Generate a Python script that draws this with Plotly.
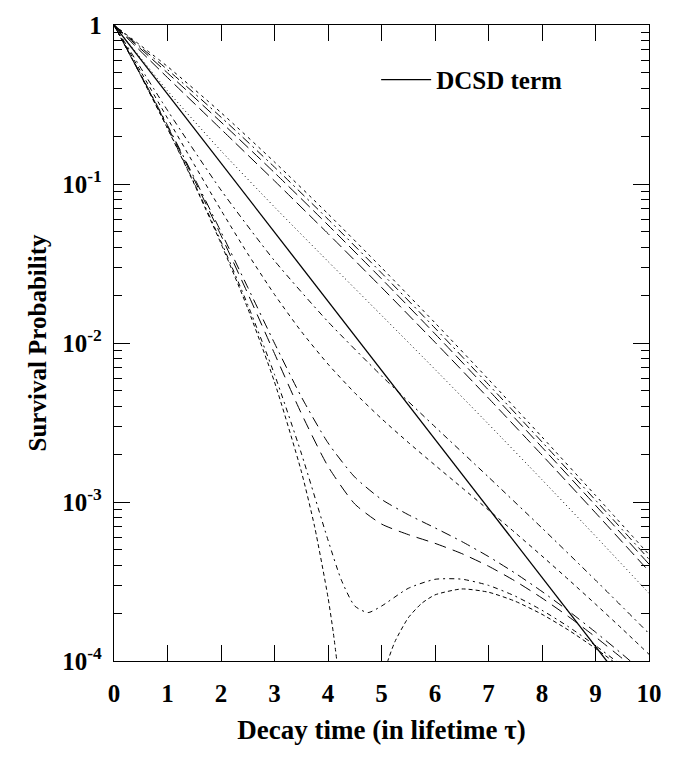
import plotly.graph_objects as go

# decay time grids (in units of the lifetime)
t_coarse = [0, 1, 2, 3, 4, 5, 6, 7, 8, 9, 10]
t_fine = [0, 0.5, 1, 1.5, 2, 2.5, 3, 3.5, 4, 4.5, 5, 5.5, 6, 6.5, 7, 7.5, 8, 8.5, 9, 9.5, 10]
t_dip = [0, 0.5, 1, 1.5, 2, 2.5, 3, 3.5, 4, 4.25, 4.5, 4.75, 5, 5.5, 6, 6.5, 7, 7.5, 8, 8.5, 9, 9.5, 10]
t_zero_left = [0, 0.5, 1, 1.5, 2, 2.5, 3, 3.5, 3.75, 4, 4.1, 4.2]
t_zero_right = [4.9, 5.0, 5.1, 5.25, 5.5, 5.75, 6, 6.5, 7, 7.5, 8, 8.5, 9, 9.5, 10]

# pure doubly-Cabibbo-suppressed term
t_dcsd = [0, 10]
p_dcsd = [1.0, 4.54e-5]

# curves above the DCSD term
p_a = [1.0, 0.5482, 0.2812, 0.1375, 0.06493, 0.02981, 0.01339, 0.005906, 0.002566, 0.001101, 0.0004669]
p_b = [1.0, 0.5238, 0.2633, 0.1277, 0.06008, 0.02758, 0.01241, 0.005483, 0.002388, 0.001027, 0.0004369]
p_c = [1.0, 0.4995, 0.2453, 0.1178, 0.05523, 0.02535, 0.01142, 0.005061, 0.002210, 0.0009535, 0.0004068]
p_d = [1.0, 0.4670, 0.2214, 0.1046, 0.04876, 0.02238, 0.01011, 0.004497, 0.001974, 0.0008555, 0.0003667]
p_e = [1.0, 0.3858, 0.1617, 0.07161, 0.03259, 0.01494, 0.006826, 0.003088, 0.001381, 0.0006103, 0.0002665]
p_f = [1.0, 0.2905, 0.09157, 0.03291, 0.01361, 0.006214, 0.002972, 0.001435, 0.0006859, 0.0003225, 0.0001489]

# curves with destructive interference
p_g = [1.0, 0.5095, 0.2591, 0.1324, 0.06851, 0.03642, 0.02019, 0.01183, 0.007367, 0.004856, 0.003344,
       0.002370, 0.001705, 0.001233, 0.0008907, 0.0006403, 0.0004573, 0.0003241, 0.0002279, 0.0001591, 0.0001102]
p_h = [1.0, 0.4888, 0.2340, 0.1095, 0.04999, 0.02238, 0.009971, 0.004597, 0.002355, 0.001435, 0.001039,
       0.0008321, 0.0006875, 0.0005644, 0.000454, 0.0003565, 0.0002736, 0.0002058, 0.0001519, 0.0001104, 7.92e-5]
p_i = [1.0, 0.4859, 0.2306, 0.1064, 0.04748, 0.02048, 0.008586, 0.003617, 0.001676, 0.000972, 0.000727,
       0.0006237, 0.0005496, 0.0004738, 0.0003948, 0.000318, 0.0002488, 0.0001897, 0.0001416, 0.0001038, 7.50e-5]
p_j = [1.0, 0.4814, 0.2250, 0.1013, 0.04342, 0.01740, 0.006345, 0.002031, 0.0005762, 0.0003227, 0.0002217,
       0.0002016, 0.0002215, 0.0002864, 0.0003264, 0.0003271, 0.000299, 0.0002558, 0.0002085, 0.0001638,
       0.000125, 9.32e-5, 6.82e-5]
p_k_left = [1.0, 0.4801, 0.2234, 0.09985, 0.04223, 0.01649, 0.005685, 0.001564, 0.000699, 0.0002516, 0.00015, 8.0e-5]
p_k_right = [4.94e-5, 7.22e-5, 9.61e-5, 0.0001321, 0.0001869, 0.0002303, 0.0002605, 0.0002839, 0.0002708,
             0.0002375, 0.0001966, 0.0001561, 0.00012, 9.0e-5, 6.61e-5]

y_ticks = [1, 0.1, 0.01, 0.001, 0.0001]
y_tick_text = ["<b>1</b>", "<b>10<sup>-1</sup></b>", "<b>10<sup>-2</sup></b>",
               "<b>10<sup>-3</sup></b>", "<b>10<sup>-4</sup></b>"]
x_ticks = [0, 1, 2, 3, 4, 5, 6, 7, 8, 9, 10]

SERIF = "Liberation Serif, Times New Roman, serif"
INK = "black"

fig = go.Figure()


def curve(t, p, dash, width=1.0, name=None, legend=False):
    fig.add_trace(go.Scatter(
        x=t, y=p, mode="lines", name=name, showlegend=legend,
        line=dict(color=INK, width=width, dash=dash, shape="spline", smoothing=0.6),
        hoverinfo="skip",
    ))


curve(t_coarse, p_a, "3px,4px")
curve(t_coarse, p_b, "9px,4px,2px,4px")
curve(t_coarse, p_c, "12px,5px")
curve(t_coarse, p_d, "12px,5px")
curve(t_coarse, p_e, "1px,3px")
curve(t_coarse, p_f, "6px,4px,2px,4px")
curve(t_fine, p_g, "4px,4px")
curve(t_fine, p_h, "10px,5px,2px,5px")
curve(t_fine, p_i, "12px,7px")
curve(t_dip, p_j, "5px,4px,2px,4px")
curve(t_zero_left, p_k_left, "4px,3px")
curve(t_zero_right, p_k_right, "4px,3px")
curve(t_dcsd, p_dcsd, "solid", width=1.3, name="<b>DCSD term</b>", legend=True)

axis_common = dict(
    showline=True, linecolor=INK, linewidth=1.3, mirror="ticks",
    ticks="inside", tickcolor=INK, tickwidth=1.2,
    showgrid=False, zeroline=False,
    tickfont=dict(family=SERIF, size=25, color=INK),
)

fig.update_xaxes(
    range=[0, 10], tickvals=x_ticks, ticktext=[f"<b>{v}</b>" for v in x_ticks],
    ticklen=16, ticklabelstandoff=10,
    title=dict(text="<b>Decay time (in lifetime \u03c4)</b>",
               font=dict(family=SERIF, size=27, color=INK), standoff=13),
    **axis_common,
)
fig.update_yaxes(
    type="log", range=[-4, 0], tickvals=y_ticks, ticktext=y_tick_text,
    ticklen=16, ticklabelstandoff=6,
    minor=dict(ticks="inside", ticklen=8, tickwidth=1, tickcolor=INK, dtick="D1", showgrid=False),
    title=dict(text="<b>Survival Probability</b>",
               font=dict(family=SERIF, size=25, color=INK), standoff=8),
    **axis_common,
)

fig.update_layout(
    width=674, height=759,
    margin=dict(l=114, r=13, t=20, b=98),
    paper_bgcolor="white", plot_bgcolor="white",
    legend=dict(x=0.49, y=0.95, xanchor="left", yanchor="top", itemwidth=50,
                bgcolor="rgba(0,0,0,0)", font=dict(family=SERIF, size=25, color=INK)),
)

fig.write_html("out.html")
